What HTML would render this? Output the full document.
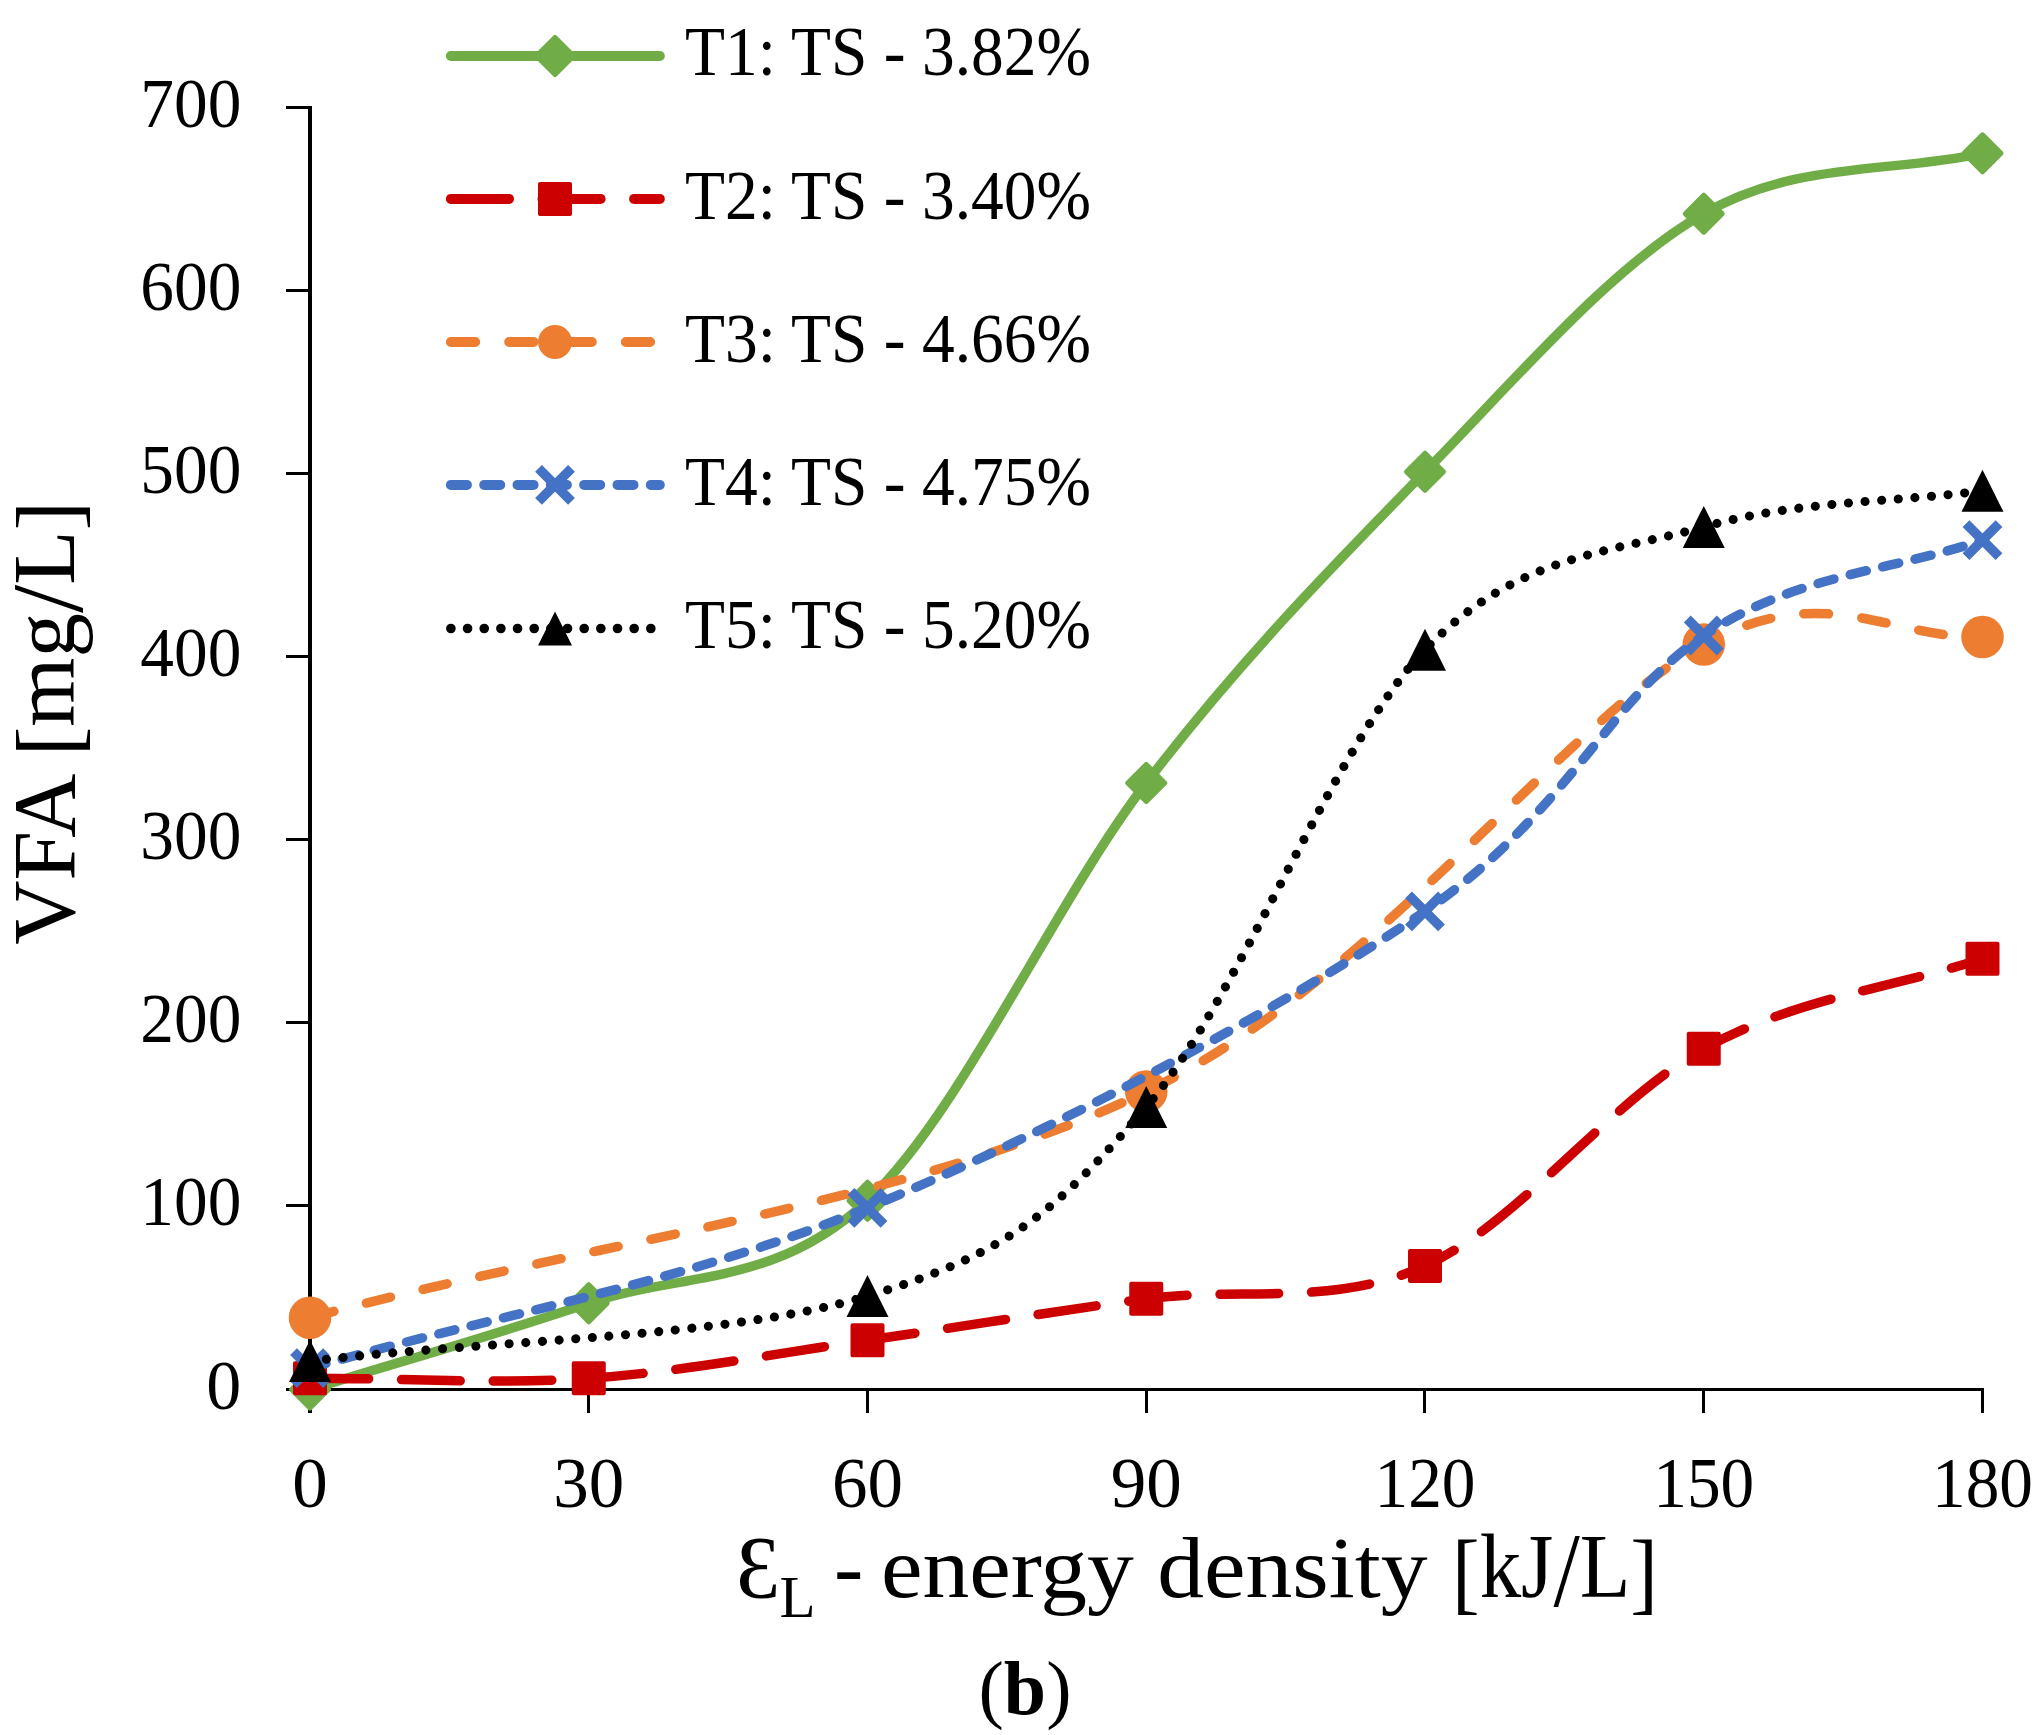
<!DOCTYPE html>
<html><head><meta charset="utf-8"><title>VFA vs energy density</title>
<style>html,body{margin:0;padding:0;background:#fff;}svg{display:block;}</style>
</head><body>
<svg width="2036" height="1735" viewBox="0 0 2036 1735">
<rect width="2036" height="1735" fill="#fff"/>
<g fill="#000">
<rect x="308" y="106" width="4" height="1285"/>
<rect x="286" y="106" width="22" height="3"/>
<rect x="286" y="289" width="22" height="3"/>
<rect x="286" y="472" width="22" height="3"/>
<rect x="286" y="655" width="22" height="3"/>
<rect x="286" y="838" width="22" height="3"/>
<rect x="286" y="1021" width="22" height="3"/>
<rect x="286" y="1204" width="22" height="3"/>
<rect x="286" y="1388" width="1698" height="3"/>
<rect x="308" y="1388" width="4" height="25"/>
<rect x="587.0" y="1388" width="3" height="25"/>
<rect x="866.0" y="1388" width="3" height="25"/>
<rect x="1145.0" y="1388" width="3" height="25"/>
<rect x="1423.0" y="1388" width="3" height="25"/>
<rect x="1702.0" y="1388" width="3" height="25"/>
<rect x="1981.0" y="1388" width="3" height="25"/>
</g>
<path d="M310.00,1389.50 C402.92,1360.75 495.83,1334.71 588.75,1303.24 C681.67,1271.77 774.58,1287.40 867.50,1200.68 C960.42,1113.96 1053.33,904.42 1146.25,782.93 C1239.17,661.45 1332.08,566.64 1425.00,471.77 C1517.92,376.90 1610.83,266.80 1703.75,213.72 C1796.67,160.64 1889.58,173.43 1982.50,153.29" fill="none" stroke="#70AD47" stroke-width="9.5" stroke-linecap="round" stroke-linejoin="round"/>
<polygon points="310.00,1371.00 328.50,1389.50 310.00,1408.00 291.50,1389.50" fill="#70AD47" stroke="#70AD47" stroke-width="5" stroke-linejoin="round"/>
<polygon points="588.75,1284.74 607.25,1303.24 588.75,1321.74 570.25,1303.24" fill="#70AD47" stroke="#70AD47" stroke-width="5" stroke-linejoin="round"/>
<polygon points="867.50,1182.18 886.00,1200.68 867.50,1219.18 849.00,1200.68" fill="#70AD47" stroke="#70AD47" stroke-width="5" stroke-linejoin="round"/>
<polygon points="1146.25,764.43 1164.75,782.93 1146.25,801.43 1127.75,782.93" fill="#70AD47" stroke="#70AD47" stroke-width="5" stroke-linejoin="round"/>
<polygon points="1425.00,453.27 1443.50,471.77 1425.00,490.27 1406.50,471.77" fill="#70AD47" stroke="#70AD47" stroke-width="5" stroke-linejoin="round"/>
<polygon points="1703.75,195.22 1722.25,213.72 1703.75,232.22 1685.25,213.72" fill="#70AD47" stroke="#70AD47" stroke-width="5" stroke-linejoin="round"/>
<polygon points="1982.50,134.79 2001.00,153.29 1982.50,171.79 1964.00,153.29" fill="#70AD47" stroke="#70AD47" stroke-width="5" stroke-linejoin="round"/>
<path d="M310.00,1378.15 C402.92,1378.21 495.83,1384.65 588.75,1378.33 C681.67,1372.01 774.58,1353.48 867.50,1340.23 C960.42,1326.99 1053.33,1311.24 1146.25,1298.84 C1239.17,1286.45 1332.08,1307.54 1425.00,1265.88 C1517.92,1224.21 1610.83,1100.04 1703.75,1048.85 C1796.67,997.67 1889.58,988.78 1982.50,958.75" fill="none" stroke="#CC0000" stroke-width="9.5" stroke-linecap="round" stroke-linejoin="round" stroke-dasharray="58.6 33.0"/>
<rect x="295.00" y="1363.15" width="30.00" height="30.00" fill="#CC0000" stroke="#CC0000" stroke-width="4" stroke-linejoin="round"/>
<rect x="573.75" y="1363.33" width="30.00" height="30.00" fill="#CC0000" stroke="#CC0000" stroke-width="4" stroke-linejoin="round"/>
<rect x="852.50" y="1325.23" width="30.00" height="30.00" fill="#CC0000" stroke="#CC0000" stroke-width="4" stroke-linejoin="round"/>
<rect x="1131.25" y="1283.84" width="30.00" height="30.00" fill="#CC0000" stroke="#CC0000" stroke-width="4" stroke-linejoin="round"/>
<rect x="1410.00" y="1250.88" width="30.00" height="30.00" fill="#CC0000" stroke="#CC0000" stroke-width="4" stroke-linejoin="round"/>
<rect x="1688.75" y="1033.85" width="30.00" height="30.00" fill="#CC0000" stroke="#CC0000" stroke-width="4" stroke-linejoin="round"/>
<rect x="1967.50" y="943.75" width="30.00" height="30.00" fill="#CC0000" stroke="#CC0000" stroke-width="4" stroke-linejoin="round"/>
<path d="M310.00,1317.71 C588.75,1242.31 913.96,1203.73 1146.25,1091.53 C1378.54,979.32 1564.38,720.23 1703.75,644.47 C1826.25,577.89 1889.58,639.47 1982.50,636.97" fill="none" stroke="#ED7D31" stroke-width="9.5" stroke-linecap="round" stroke-linejoin="round" stroke-dasharray="24.8 33.5"/>
<circle cx="310.00" cy="1317.71" r="21.30" fill="#ED7D31"/>
<circle cx="1146.25" cy="1091.53" r="21.30" fill="#ED7D31"/>
<circle cx="1703.75" cy="644.47" r="21.30" fill="#ED7D31"/>
<circle cx="1982.50" cy="636.97" r="21.30" fill="#ED7D31"/>
<path d="M310.00,1368.07 C495.83,1314.66 681.67,1283.95 867.50,1207.82 C1053.33,1131.70 1285.62,1006.70 1425.00,911.31 C1564.38,815.93 1610.83,697.37 1703.75,635.50 C1796.67,573.63 1889.58,571.89 1982.50,540.08" fill="none" stroke="#4472C4" stroke-width="9.5" stroke-linecap="round" stroke-linejoin="round" stroke-dasharray="16.5 16.82"/>
<path d="M293.50,1351.57 L326.50,1384.57 M293.50,1384.57 L326.50,1351.57" stroke="#4472C4" stroke-width="9.6" fill="none"/>
<path d="M851.00,1191.32 L884.00,1224.32 M851.00,1224.32 L884.00,1191.32" stroke="#4472C4" stroke-width="9.6" fill="none"/>
<path d="M1408.50,894.81 L1441.50,927.81 M1408.50,927.81 L1441.50,894.81" stroke="#4472C4" stroke-width="9.6" fill="none"/>
<path d="M1687.25,619.00 L1720.25,652.00 M1687.25,652.00 L1720.25,619.00" stroke="#4472C4" stroke-width="9.6" fill="none"/>
<path d="M1966.00,523.58 L1999.00,556.58 M1966.00,556.58 L1999.00,523.58" stroke="#4472C4" stroke-width="9.6" fill="none"/>
<path d="M310.00,1361.11 C495.83,1339.44 728.12,1338.46 867.50,1296.10 C1006.88,1253.73 1053.33,1214.63 1146.25,1106.91 C1239.17,999.19 1332.08,746.45 1425.00,649.79 C1517.92,553.12 1610.83,553.39 1703.75,526.90 C1796.67,500.40 1889.58,502.84 1982.50,490.82" fill="none" stroke="#000000" stroke-width="9.1" stroke-linecap="round" stroke-linejoin="round" stroke-dasharray="0.01 16.65"/>
<polygon points="310.00,1340.11 331.00,1382.11 289.00,1382.11" fill="#000000"/>
<polygon points="867.50,1275.10 888.50,1317.10 846.50,1317.10" fill="#000000"/>
<polygon points="1146.25,1085.91 1167.25,1127.91 1125.25,1127.91" fill="#000000"/>
<polygon points="1425.00,628.79 1446.00,670.79 1404.00,670.79" fill="#000000"/>
<polygon points="1703.75,505.90 1724.75,547.90 1682.75,547.90" fill="#000000"/>
<polygon points="1982.50,469.82 2003.50,511.82 1961.50,511.82" fill="#000000"/>
<path d="M450.90,56.00 H659.80" fill="none" stroke="#70AD47" stroke-width="10" stroke-linecap="round"/>
<polygon points="555.00,37.50 573.50,56.00 555.00,74.50 536.50,56.00" fill="#70AD47" stroke="#70AD47" stroke-width="5" stroke-linejoin="round"/>
<path d="M450.90,198.90 H659.80" fill="none" stroke="#CC0000" stroke-width="10" stroke-linecap="round" stroke-dasharray="58.1 33.5"/>
<rect x="540.00" y="183.90" width="30.00" height="30.00" fill="#CC0000" stroke="#CC0000" stroke-width="4" stroke-linejoin="round"/>
<path d="M450.90,342.00 H659.80" fill="none" stroke="#ED7D31" stroke-width="10" stroke-linecap="round" stroke-dasharray="24.3 34.0"/>
<circle cx="555.00" cy="342.00" r="17.00" fill="#ED7D31"/>
<path d="M450.90,484.90 H659.80" fill="none" stroke="#4472C4" stroke-width="10" stroke-linecap="round" stroke-dasharray="16 17.32"/>
<path d="M538.50,468.40 L571.50,501.40 M538.50,501.40 L571.50,468.40" stroke="#4472C4" stroke-width="9.6" fill="none"/>
<path d="M450.90,628.50 H659.80" fill="none" stroke="#000000" stroke-width="9.6" stroke-linecap="round" stroke-dasharray="0.01 16.65"/>
<polygon points="555.00,611.50 572.00,645.50 538.00,645.50" fill="#000000"/>
<text x="685" y="75.3" font-size="69" font-family="Liberation Serif, serif" fill="#000" textLength="406" lengthAdjust="spacingAndGlyphs">T1: TS - 3.82%</text>
<text x="685" y="218.5" font-size="69" font-family="Liberation Serif, serif" fill="#000" textLength="406" lengthAdjust="spacingAndGlyphs">T2: TS - 3.40%</text>
<text x="685" y="361.7" font-size="69" font-family="Liberation Serif, serif" fill="#000" textLength="406" lengthAdjust="spacingAndGlyphs">T3: TS - 4.66%</text>
<text x="685" y="504.9" font-size="69" font-family="Liberation Serif, serif" fill="#000" textLength="406" lengthAdjust="spacingAndGlyphs">T4: TS - 4.75%</text>
<text x="685" y="648.1" font-size="69" font-family="Liberation Serif, serif" fill="#000" textLength="406" lengthAdjust="spacingAndGlyphs">T5: TS - 5.20%</text>
<text x="241.3" y="1408.5" font-size="70" text-anchor="end" font-family="Liberation Serif, serif" fill="#000">0</text>
<text x="241.3" y="1225.4" font-size="70" text-anchor="end" textLength="101" lengthAdjust="spacingAndGlyphs" font-family="Liberation Serif, serif" fill="#000">100</text>
<text x="241.3" y="1042.2" font-size="70" text-anchor="end" textLength="101" lengthAdjust="spacingAndGlyphs" font-family="Liberation Serif, serif" fill="#000">200</text>
<text x="241.3" y="859.1" font-size="70" text-anchor="end" textLength="101" lengthAdjust="spacingAndGlyphs" font-family="Liberation Serif, serif" fill="#000">300</text>
<text x="241.3" y="675.9" font-size="70" text-anchor="end" textLength="101" lengthAdjust="spacingAndGlyphs" font-family="Liberation Serif, serif" fill="#000">400</text>
<text x="241.3" y="492.8" font-size="70" text-anchor="end" textLength="101" lengthAdjust="spacingAndGlyphs" font-family="Liberation Serif, serif" fill="#000">500</text>
<text x="241.3" y="309.6" font-size="70" text-anchor="end" textLength="101" lengthAdjust="spacingAndGlyphs" font-family="Liberation Serif, serif" fill="#000">600</text>
<text x="241.3" y="126.5" font-size="70" text-anchor="end" textLength="101" lengthAdjust="spacingAndGlyphs" font-family="Liberation Serif, serif" fill="#000">700</text>
<text x="310.00" y="1506.8" font-size="71" text-anchor="middle" font-family="Liberation Serif, serif" fill="#000">0</text>
<text x="588.75" y="1506.8" font-size="71" text-anchor="middle" font-family="Liberation Serif, serif" fill="#000">30</text>
<text x="867.50" y="1506.8" font-size="71" text-anchor="middle" font-family="Liberation Serif, serif" fill="#000">60</text>
<text x="1146.25" y="1506.8" font-size="71" text-anchor="middle" font-family="Liberation Serif, serif" fill="#000">90</text>
<text x="1425.00" y="1506.8" font-size="71" text-anchor="middle" textLength="101" lengthAdjust="spacingAndGlyphs" font-family="Liberation Serif, serif" fill="#000">120</text>
<text x="1703.75" y="1506.8" font-size="71" text-anchor="middle" textLength="101" lengthAdjust="spacingAndGlyphs" font-family="Liberation Serif, serif" fill="#000">150</text>
<text x="1982.50" y="1506.8" font-size="71" text-anchor="middle" textLength="101" lengthAdjust="spacingAndGlyphs" font-family="Liberation Serif, serif" fill="#000">180</text>
<text transform="translate(73.5,944.8) rotate(-90)" font-size="89" font-family="Liberation Serif, serif" fill="#000" textLength="444" lengthAdjust="spacingAndGlyphs">VFA <tspan dy="4">[</tspan><tspan dy="-4">mg</tspan><tspan font-size="102" dy="8">/</tspan><tspan dy="-8">L</tspan><tspan dy="4">]</tspan></text>
<text x="736" y="1597" font-size="88" font-family="Liberation Serif, serif" fill="#000">Ɛ</text>
<text x="779.5" y="1616.5" font-size="59" font-family="Liberation Serif, serif" fill="#000">L</text>
<text x="834" y="1597" font-size="88" font-family="Liberation Serif, serif" fill="#000">-</text>
<text x="881" y="1597" font-size="86" font-family="Liberation Serif, serif" fill="#000" textLength="546.5" lengthAdjust="spacingAndGlyphs">energy density</text>
<text x="1452" y="1597" font-size="92" font-family="Liberation Serif, serif" fill="#000" textLength="206" lengthAdjust="spacingAndGlyphs"><tspan dy="6">[</tspan><tspan dy="-6">kJ</tspan><tspan font-size="105" dy="8.6">/</tspan><tspan dy="-8.6">L</tspan><tspan dy="6">]</tspan></text>
<text x="1025" y="1714" font-size="76" text-anchor="middle" font-family="Liberation Serif, serif" fill="#000">(<tspan font-weight="bold">b</tspan>)</text>
</svg>
</body></html>
